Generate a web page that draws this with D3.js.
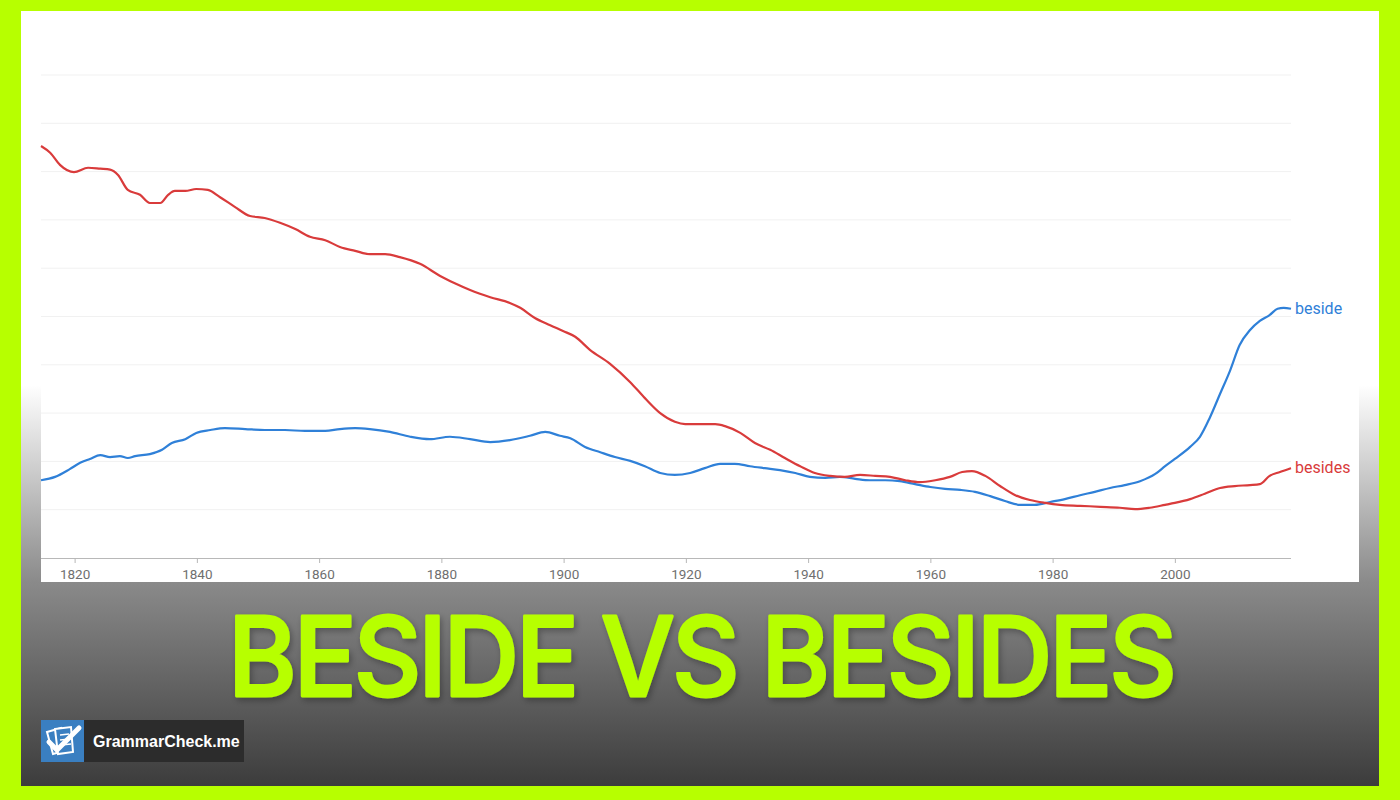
<!DOCTYPE html>
<html><head><meta charset="utf-8">
<script src="https://cdn.jsdelivr.net/npm/d3@7"></script>
<style>html,body{margin:0;padding:0;background:#b7ff00;}svg{display:block;}</style>
</head><body>
<svg id="c" width="1400" height="800"></svg>
<script>
// ---- data ----
const xTicks = [1820, 1840, 1860, 1880, 1900, 1920, 1940, 1960, 1980, 2000];
const yGrid = [1, 2, 3, 4, 5, 6, 7, 8, 9, 10];
const besidesYears = [1814.5,1816.0,1817.6,1819.9,1822.2,1824.2,1825.8,1827.1,1828.7,1830.7,1832.3,1834.0,1835.3,1836.4,1838.1,1839.9,1841.8,1843.8,1846.2,1848.7,1851.1,1853.6,1856.1,1858.5,1861.0,1863.4,1865.9,1868.3,1870.8,1873.2,1876.5,1879.8,1882.2,1884.7,1888.0,1891.2,1892.9,1895.3,1897.8,1899.9,1901.9,1904.3,1907.6,1910.9,1913.3,1915.8,1918.2,1919.9,1922.3,1924.8,1926.4,1928.9,1931.3,1933.8,1936.2,1938.7,1941.1,1943.6,1946.0,1948.5,1951.0,1953.4,1955.9,1958.3,1960.8,1963.2,1965.2,1966.8,1969.0,1971.4,1973.9,1976.3,1978.8,1981.2,1984.5,1987.8,1991.0,1993.5,1995.9,1998.4,2000.0,2002.5,2004.9,2007.4,2009.8,2012.3,2013.9,2015.5,2017.2,2019.0];
const besidesValues = [8.53,8.39,8.14,7.99,8.08,8.06,8.04,7.93,7.62,7.52,7.35,7.35,7.52,7.60,7.60,7.64,7.62,7.47,7.27,7.08,7.04,6.94,6.81,6.65,6.58,6.44,6.36,6.29,6.29,6.23,6.09,5.84,5.69,5.55,5.40,5.28,5.18,4.97,4.82,4.70,4.58,4.31,4.02,3.64,3.31,3.00,2.82,2.77,2.77,2.77,2.73,2.59,2.38,2.24,2.07,1.90,1.76,1.70,1.68,1.72,1.70,1.68,1.61,1.57,1.61,1.68,1.78,1.80,1.70,1.49,1.30,1.20,1.14,1.10,1.08,1.06,1.04,1.01,1.04,1.10,1.14,1.22,1.33,1.45,1.49,1.51,1.53,1.70,1.78,1.86];
const besideYears = [1814.5,1816.8,1819.2,1820.9,1822.5,1824.2,1825.8,1827.4,1828.7,1829.9,1832.3,1834.3,1835.9,1838.1,1839.9,1842.2,1844.6,1847.9,1851.1,1854.4,1857.7,1861.0,1863.4,1865.9,1868.3,1871.6,1874.9,1878.1,1881.4,1884.7,1888.0,1891.2,1894.5,1897.0,1899.4,1901.1,1903.5,1906.0,1908.4,1910.9,1913.3,1915.8,1918.2,1920.7,1923.1,1925.6,1928.0,1930.5,1932.9,1935.4,1937.9,1940.3,1942.8,1945.2,1947.7,1950.1,1952.6,1955.0,1957.5,1960.0,1962.4,1964.9,1967.3,1969.8,1972.2,1974.7,1977.1,1979.6,1982.0,1984.5,1986.9,1989.4,1991.8,1994.3,1996.8,1998.4,2000.0,2002.5,2004.1,2005.7,2007.4,2009.0,2010.6,2012.3,2013.9,2015.5,2016.8,2017.8,2019.0];
const besideValues = [1.61,1.68,1.84,1.97,2.05,2.13,2.09,2.11,2.07,2.11,2.15,2.24,2.38,2.46,2.59,2.65,2.69,2.67,2.65,2.65,2.63,2.63,2.67,2.69,2.67,2.61,2.51,2.46,2.51,2.46,2.40,2.44,2.53,2.61,2.53,2.48,2.30,2.19,2.09,2.01,1.90,1.76,1.72,1.76,1.86,1.95,1.95,1.90,1.86,1.82,1.76,1.68,1.66,1.68,1.64,1.61,1.61,1.59,1.53,1.47,1.43,1.41,1.37,1.28,1.18,1.10,1.10,1.16,1.22,1.30,1.37,1.45,1.51,1.59,1.74,1.90,2.05,2.30,2.51,2.90,3.40,3.87,4.41,4.72,4.91,5.03,5.16,5.18,5.16];
const seriesNames = ["beside", "besides"];
const titleText = "BESIDE VS BESIDES";
const brandText = "GrammarCheck.me";

// ---- drawing ----
const svg = d3.select("#c");
const defs = svg.append("defs");
const bg = defs.append("linearGradient").attr("id","bg").attr("gradientUnits","userSpaceOnUse")
  .attr("x1",0).attr("y1",11).attr("x2",0).attr("y2",786);
[[0,"#ffffff"],[(385-11)/775,"#ffffff"],[(582-11)/775,"#8a8a8a"],[1,"#3c3c3c"]].forEach(s=>
  bg.append("stop").attr("offset",s[0]).attr("stop-color",s[1]));
const sh = defs.append("filter").attr("id","sh").attr("x","-10%").attr("y","-20%").attr("width","120%").attr("height","140%");
sh.append("feDropShadow").attr("dx",2).attr("dy",3).attr("stdDeviation",3).attr("flood-color","#000").attr("flood-opacity",0.3);

svg.append("rect").attr("width",1400).attr("height",800).attr("fill","#b7ff00");
svg.append("rect").attr("x",21).attr("y",11).attr("width",1358).attr("height",775).attr("fill","url(#bg)");
svg.append("rect").attr("x",41).attr("y",11).attr("width",1318).attr("height",571).attr("fill","#ffffff");

const x = d3.scaleLinear().domain([1814.5, 2019]).range([41, 1291]);
const y = d3.scaleLinear().domain([0, 10]).range([558, 75]);

const g = svg.append("g");
g.selectAll("line.grid").data(yGrid).join("line").attr("class","grid")
  .attr("x1",41).attr("x2",1291).attr("y1",d=>y(d)).attr("y2",d=>y(d))
  .attr("stroke","#f1f1f1").attr("stroke-width",1);

const axis = g.append("g").attr("transform","translate(0,558)")
  .call(d3.axisBottom(x).tickValues(xTicks).tickFormat(d3.format("d")).tickSize(5).tickSizeOuter(0).tickPadding(6));
axis.select(".domain").attr("stroke","#b8b8b8").attr("d","M41,0.5H1291");
axis.selectAll(".tick line").attr("stroke","#b8b8b8");
axis.selectAll(".tick text").attr("fill","#6f6f6f").style("font-family","Roboto").style("font-size","13.5px");

const line = d3.line().x(d=>x(d[0])).y(d=>y(d[1])).curve(d3.curveMonotoneX);
const besidesData = besidesYears.map((yr,i)=>[yr, besidesValues[i]]);
const besideData = besideYears.map((yr,i)=>[yr, besideValues[i]]);
const series = [
  {name: seriesNames[0], data: besideData, color:"#2f80d8"},
  {name: seriesNames[1], data: besidesData, color:"#d93b3b"}
];
series.forEach(s=>{
  g.append("path").datum(s.data).attr("d",line).attr("fill","none")
   .attr("stroke",s.color).attr("stroke-width",2.2).attr("stroke-linejoin","round");
  const last = s.data[s.data.length-1];
  g.append("text").attr("x",x(last[0])+4).attr("y",y(last[1])+5).text(s.name)
   .attr("fill",s.color).style("font-family","Roboto").style("font-size","16px");
});

// title: fit to box x 228..1177, cap top 615, baseline 697
const tg = svg.append("g").attr("filter","url(#sh)");
const t = tg.append("text").attr("x",0).attr("y",0).attr("text-anchor","start")
  .text(titleText).attr("fill","#b7ff00").attr("stroke","#b7ff00").attr("stroke-width",2.6).attr("stroke-linejoin","round")
  .style("font-family","Inter, 'Liberation Sans', sans-serif").style("font-weight","500").style("font-size","100px").style("letter-spacing","-3px");
const tw = t.node().getComputedTextLength() + 3;
const sx = 949 / tw, sy = 80 / 72.7;
t.attr("transform", `translate(228,696) scale(${sx},${sy})`);

// brand
svg.append("rect").attr("x",41).attr("y",720).attr("width",203).attr("height",42).attr("fill","#2c2c2c");
svg.append("rect").attr("x",41).attr("y",720).attr("width",43).attr("height",42).attr("fill","#3a7fc1");
const ic = svg.append("g").attr("transform","translate(41,720)");
ic.append("path").attr("d","M6,12 L20,8 L26,30 L12,34 Z").attr("fill","none").attr("stroke","#fff").attr("stroke-width",2);
ic.append("path").attr("d","M14,9 L30,7 L32,32 L17,34 Z").attr("fill","#3a7fc1").attr("stroke","#fff").attr("stroke-width",2);
ic.append("path").attr("d","M19,15 L28,14 M19,20 L29,19 M20,25 L30,24").attr("stroke","#fff").attr("stroke-width",1.5);
ic.append("path").attr("d","M8,22 L16,30 L38,8").attr("fill","none").attr("stroke","#fff").attr("stroke-width",5).attr("stroke-linecap","round");
svg.append("text").attr("x",93).attr("y",747).text(brandText).attr("fill","#ffffff")
  .style("font-family","'Liberation Sans', Arial").style("font-weight","700").style("font-size","16px");
</script>
</body></html>
